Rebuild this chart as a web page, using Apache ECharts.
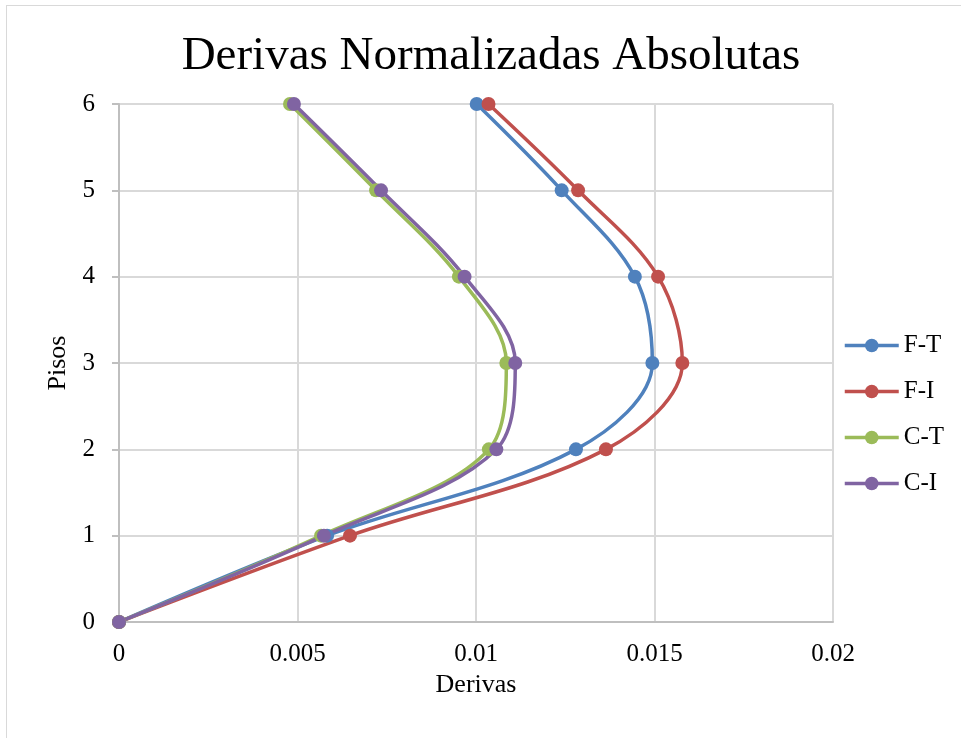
<!DOCTYPE html>
<html>
<head>
<meta charset="utf-8">
<script src="https://cdn.jsdelivr.net/npm/echarts@6/dist/echarts.min.js"></script>
<style>
html,body{margin:0;padding:0;background:#fff;}
#frame{position:absolute;left:6px;top:5px;width:980px;height:760px;border:1px solid #d9d9d9;box-sizing:border-box;}
#chart{position:absolute;left:0;top:0;width:961px;height:738px;}
</style>
</head>
<body>
<div id="frame"></div>
<div id="chart"></div>
<script>
const floors = [0, 1, 2, 3, 4, 5, 6];
const seriesNames = ['F-T', 'F-I', 'C-T', 'C-I'];
const ftValues = [0, 0.00583, 0.0128, 0.01494, 0.01445, 0.01240, 0.01002];
const fiValues = [0, 0.00647, 0.01364, 0.01578, 0.01510, 0.01286, 0.01035];
const ctValues = [0, 0.00566, 0.01036, 0.01085, 0.00952, 0.00720, 0.00479];
const ciValues = [0, 0.00574, 0.01057, 0.01110, 0.00968, 0.00734, 0.00490];
const xTicks = [0, 0.005, 0.01, 0.015, 0.02];
const colors = ['#4F81BD', '#C0504D', '#9BBB59', '#8064A2'];

const allValues = [ftValues, fiValues, ctValues, ciValues];
const font = '"Liberation Serif", "Times New Roman", serif';

const chart = echarts.init(document.getElementById('chart'), null, {renderer: 'canvas'});
chart.setOption({
  backgroundColor: 'transparent',
  animation: false,
  color: colors,
  title: {
    text: 'Derivas Normalizadas Absolutas',
    left: 491, top: 33, textAlign: 'center', padding: 0,
    textStyle: {fontFamily: font, fontSize: 47, fontWeight: 'normal', color: '#000'}
  },
  legend: {
    orient: 'vertical',
    left: 843, top: 333, padding: 0,
    itemGap: 21,
    itemWidth: 54, itemHeight: 17,
    data: seriesNames,
    lineStyle: {width: 3.5},
    textStyle: {fontFamily: font, fontSize: 25, lineHeight: 25, color: '#000'}
  },
  grid: {left: 119, right: 128, top: 104, bottom: 116, containLabel: false},
  xAxis: {
    type: 'value', min: 0, max: 0.02, interval: 0.005,
    name: 'Derivas', nameLocation: 'middle', nameGap: 49,
    nameTextStyle: {fontFamily: font, fontSize: 26, color: '#000'},
    axisLine: {show: true, lineStyle: {color: '#bfbfbf', width: 2}},
    axisTick: {show: false},
    axisLabel: {fontFamily: font, fontSize: 25, color: '#000', margin: 20,
      formatter: v => { const t = xTicks.find(k => Math.abs(k - v) < 1e-9); return t === undefined ? '' : String(t); }},
    splitLine: {show: true, lineStyle: {color: '#d9d9d9', width: 2}}
  },
  yAxis: {
    type: 'value', min: 0, max: 6, interval: 1,
    name: 'Pisos', nameLocation: 'middle', nameGap: 40, nameRotate: 90,
    nameTextStyle: {fontFamily: font, fontSize: 26, color: '#000'},
    axisLine: {show: true, lineStyle: {color: '#bfbfbf', width: 2}},
    axisTick: {show: true, length: 7, lineStyle: {color: '#bfbfbf', width: 2}},
    axisLabel: {fontFamily: font, fontSize: 25, color: '#000', margin: 24},
    splitLine: {show: true, lineStyle: {color: '#d9d9d9', width: 2}}
  },
  series: seriesNames.map((name, i) => ({
    name: name,
    type: 'line',
    smooth: 0.35,
    symbol: 'circle',
    symbolSize: 14,
    lineStyle: {width: 3.5, color: colors[i]},
    itemStyle: {color: colors[i]},
    data: floors.map((f, j) => [allValues[i][j], f])
  }))
});
</script>
</body>
</html>
